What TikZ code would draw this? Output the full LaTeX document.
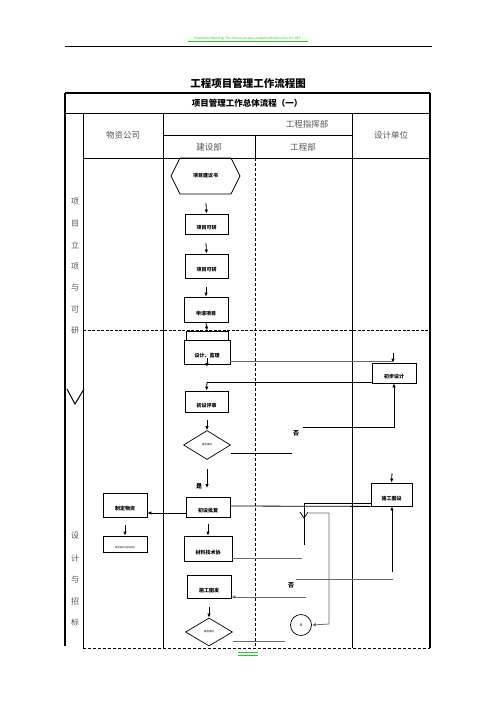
\documentclass[tikz,border=0pt]{standalone}
\usepackage{fontspec}
\setmainfont{Noto Sans CJK SC}
\usetikzlibrary{shapes.geometric,arrows.meta}
\definecolor{hdrgray}{HTML}{555555}
\definecolor{lngray}{HTML}{6A6A6A}
\definecolor{wmgreen}{HTML}{22CC22}
\tikzset{
  boxn/.style={draw, line width=0.8pt, inner sep=0pt, text height=11pt, text depth=0pt, font=\bfseries\fontsize{5}{6}\selectfont},
  dia/.style={draw, diamond, line width=0.7pt, inner sep=0pt, font=\fontsize{2.5}{3}\selectfont},
  arr/.style={-{Latex[length=4pt,width=3.5pt]}, line width=0.8pt},
  ln/.style={line width=0.8pt},
  gln/.style={line width=1pt, draw=lngray},
  hdr/.style={text=hdrgray, font=\fontsize{8.5}{10}\selectfont, inner sep=0pt},
  side/.style={text=hdrgray, font=\fontsize{8}{9}\selectfont, inner sep=0pt},
  lab/.style={font=\bfseries\fontsize{6}{7}\selectfont, inner sep=0pt}
}
\begin{document}
\begin{tikzpicture}[x=1pt,y=-1pt]
\useasboundingbox (0,0) rectangle (496,702);
\fill[white] (0,0) rectangle (496,702);

% page header watermark and rule
\node[text=wmgreen, font=\fontsize{3.2}{4}\selectfont, inner sep=0pt] (wm) at (248,38.5) {Evaluation Warning: The document was created with Spire.Doc for .NET.};
\draw[wmgreen, line width=1.2pt] (188,41.5) -- (308,41.5);
\draw[line width=0.8pt] (65,46) -- (432,46);
\draw[wmgreen, line width=0.8pt] (238,652.5) -- (258,652.5) (238,655) -- (258,655);

% title
\node[font=\bfseries\fontsize{10.5}{12}\selectfont, inner sep=0pt] (title) at (248,83) {工程项目管理工作流程图};

% table frame
\draw[line width=1.5pt] (65,93) -- (430,93);
\draw[line width=1.8pt] (65,93) -- (65,646);
\draw[line width=1.3pt] (430,93) -- (430,648);
\draw[ln] (65,113) -- (430,113);
\node[font=\bfseries\fontsize{8.5}{10}\selectfont, inner sep=0pt] (sub) at (247,103) {项目管理工作总体流程（一）};
\draw[ln] (83,113) -- (83,648);
\draw[ln] (163,113) -- (163,648);
\draw[ln] (352,113) -- (352,648);
\draw[ln] (163,135.7) -- (352,135.7);
\draw[ln] (83,158) -- (430,158);
\draw[ln] (255,135.7) -- (255,158);
\draw[line width=0.8pt, dash pattern=on 3pt off 2pt] (255,158) -- (255,648);
\draw[line width=1.6pt, dash pattern=on 3pt off 1.5pt] (83,330.5) -- (430,330.5);
\draw[line width=0.9pt, dash pattern=on 3pt off 2pt] (83,648) -- (430,648);

% header texts
\node[hdr] (h1) at (123,135.5) {物资公司};
\node[hdr] (h2) at (307,124) {工程指挥部};
\node[hdr] (h3) at (209,147) {建设部};
\node[hdr] (h4) at (303,147) {工程部};
\node[hdr] (h5) at (391,135.5) {设计单位};

% side labels
\node[side] (s1) at (75,202) {项};
\node[side] (s2) at (75,223.5) {目};
\node[side] (s3) at (75,245) {立};
\node[side] (s4) at (75,266.5) {项};
\node[side] (s5) at (75,288) {与};
\node[side] (s6) at (75,309.5) {可};
\node[side] (s7) at (75,331) {研};
\node[side] (t1) at (75,536) {设};
\node[side] (t2) at (75,558) {计};
\node[side] (t3) at (75,580) {与};
\node[side] (t4) at (75,601) {招};
\node[side] (t5) at (75,622) {标};
\draw[line width=1pt] (67,389) -- (75,404) -- (84,389);

% hexagon
\draw[line width=0.7pt] (171,176) -- (180,158) -- (231,158) -- (240,176) -- (231,194) -- (180,194) -- cycle;
\node[font=\bfseries\fontsize{5}{6}\selectfont, inner sep=0pt, minimum width=60pt, minimum height=36pt] (hex) at (205.5,176) {项目建议书};

% 建设部 column
\node[boxn, minimum width=43pt, minimum height=20pt] (b1) at (206.5,224) {项目可研};
\node[boxn, minimum width=43pt, minimum height=24pt] (b2) at (206.5,266) {项目可研};
\node[boxn, minimum width=44pt, minimum height=25pt] (b3) at (206,309.5) {申请项目};
\node[boxn, minimum width=42pt, minimum height=9pt, text height=0pt] (b3a) at (207,335.5) {};
\node[boxn, minimum width=46pt, minimum height=24pt] (b4) at (207,352) {设计、监理};
\node[boxn, minimum width=43pt, minimum height=21pt] (b6) at (206.5,401.5) {初设评审};
\node[dia, minimum width=47pt, minimum height=29pt] (d1) at (207,445) {是否通过};
\node[boxn, minimum width=44pt, minimum height=20pt] (b7) at (208,507) {初设批复};
\node[boxn, minimum width=48pt, minimum height=25pt] (b10) at (208,548.5) {材料技术协};
\node[boxn, minimum width=44pt, minimum height=23pt] (b12) at (209,586.5) {施工图发};
\node[dia, minimum width=47pt, minimum height=28pt] (d2) at (209,632) {是否通过};

% 物资公司 column
\node[boxn, minimum width=44pt, minimum height=24pt] (b8) at (125,505) {制定物资};
\node[boxn, minimum width=44pt, minimum height=16pt, font=\fontsize{2.2}{3}\selectfont, text height=8pt] (b9) at (125,544) {物资采购计划及招标};

% 设计单位 column
\node[boxn, minimum width=44pt, minimum height=20pt] (b5) at (394,373) {初步设计};
\node[boxn, minimum width=41pt, minimum height=23pt] (b11) at (391.5,494.5) {施工图设};

% connector
\node[draw, circle, line width=0.7pt, minimum size=21pt, inner sep=0pt, font=\itshape\fontsize{4}{5}\selectfont] (c1) at (301,625) {A};

% labels
\node[lab] (no1) at (296,433) {否};
\node[lab] (yes1) at (199,486) {是};
\node[lab] (no2) at (291,585) {否};

% free coordinates
\coordinate (p1) at (206,203); \coordinate (p2) at (206,243); \coordinate (p3) at (206,287);
\coordinate (p5) at (207,358); \coordinate (p5e) at (207,367);
\coordinate (p6) at (393,361); \coordinate (p6t) at (393,353);
\coordinate (p7) at (207,382);
\coordinate (p8) at (207,420);
\coordinate (p9) at (292,453);
\coordinate (p10) at (303,427); \coordinate (p10b) at (394,427);
\coordinate (p11) at (207,469); \coordinate (p11e) at (207,488);
\coordinate (p12) at (392,473);
\coordinate (p13) at (208,524);
\coordinate (p14) at (125,525);
\coordinate (p15) at (302,558);
\coordinate (p16) at (304,503); \coordinate (p16b) at (304,545);
\coordinate (p17) at (309,513); \coordinate (p17b) at (329,513); \coordinate (p17c) at (329,624);
\coordinate (p18) at (296,579); \coordinate (p18b) at (393,579);
\coordinate (p19) at (392,572);
\coordinate (p20) at (306,597);
\coordinate (p21) at (209,607);
\coordinate (p22) at (285,641);

% arrows
\draw[arr] (p1) -- (b1.north);
\draw[arr] (p2) -- (b2.north);
\draw[arr] (p3) -- (b3.north);
\draw[arr] (b3.south) -- (b3a.north);
\draw[arr] (p5) -- (p5e);
\draw[gln] ([yshift=-9pt]b4.east) -- (p6);
\draw[arr] (p6t) -- (b5.north -| p6t);
\draw[ln] ([yshift=-9pt]b5.west) -- (p7);
\draw[arr] (p7) -- (b6.north);
\draw[arr] (p8) -- (d1.north);
\draw[ln] ([yshift=-8pt]d1.east) -- (p9);
\draw[arr] (p10) -- (p10b) -- (b5.south);
\draw[arr] (p11) -- (p11e);
\draw[arr] (p12) -- (b11.north);
\draw[arr] ([yshift=-6pt]b7.west) -- ([yshift=-8pt]b8.east);
\draw[arr] (p14) -- (b9.north);
\draw[arr] (p13) -- (b10.north);
\draw[ln] ([yshift=1pt]b7.east) -- (b11.south west);
\draw[ln] (p16) -- (b11.west |- p16);
\draw[ln] (p16) -- (p16b);
\draw[line width=0.7pt] (300,512) -- (304,518) -- (308,512);
\draw[ln, draw=lngray] ([yshift=-9.5pt]b10.east) -- (p15);
\draw[arr, draw=lngray] (p17) -- (p17b) -- (p17c) -- (c1.east);
\draw[gln] (p18) -- (p18b);
\draw[arr] (p19) -- (b11.south -| p19);
\draw[arr, draw=lngray] (p20) -- (b12.east |- p20);
\draw[arr] (p21) -- (d2.north);
\draw[gln] ([yshift=-9pt]d2.east) -- (p22);
\end{tikzpicture}
\end{document}
